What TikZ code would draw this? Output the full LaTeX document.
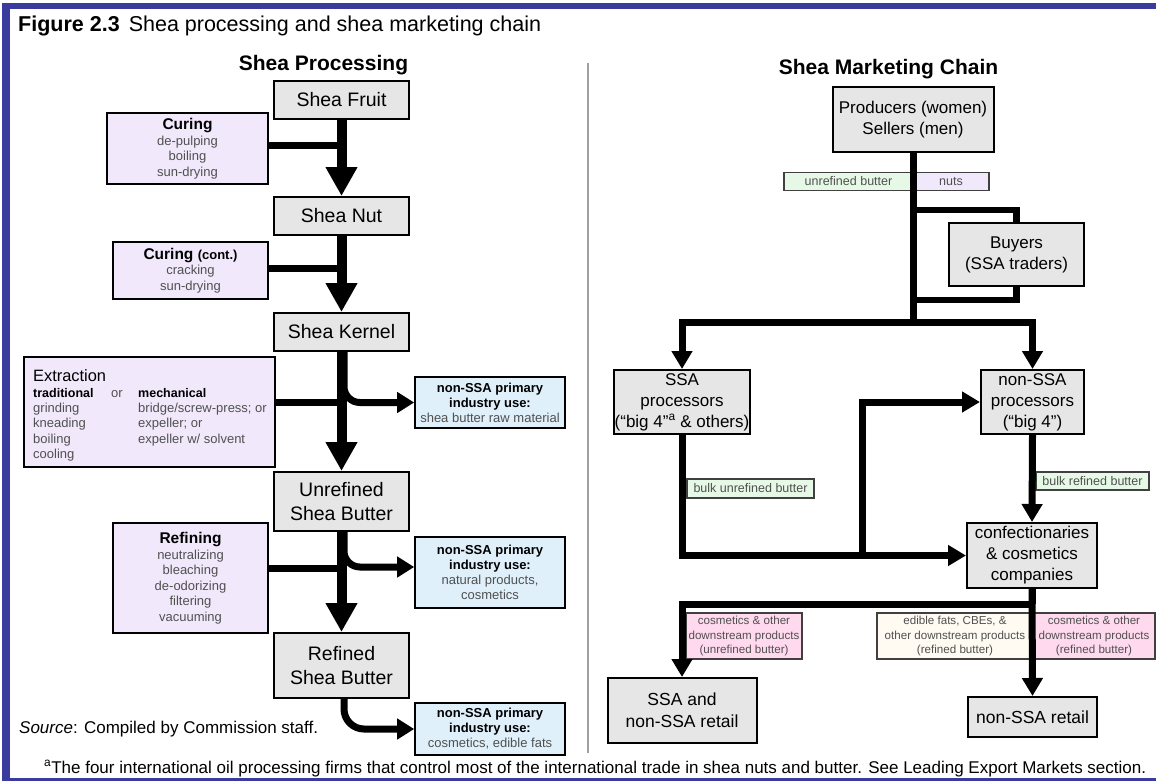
\documentclass[tikz,border=0pt]{standalone}
\usepackage{fontspec}
\setmainfont{Liberation Sans}
\usetikzlibrary{arrows.meta}
\definecolor{frameblue}{HTML}{3B3B9E}
\definecolor{boxgray}{HTML}{E6E6E6}
\definecolor{lav}{HTML}{F1E8FB}
\definecolor{lblue}{HTML}{DFF0FB}
\definecolor{lgreen}{HTML}{E6F9E6}
\definecolor{lpink}{HTML}{FFD9EE}
\definecolor{cream}{HTML}{FFFBF2}
\definecolor{subgray}{HTML}{505050}
\definecolor{divgray}{HTML}{A0A0A0}
\newcommand\fs[2]{\fontsize{#1}{#2}\selectfont}
\newcommand\hd[1]{{\color{black}\fs{15.5}{15.5}\bfseries #1}}
\newcommand\bk[1]{{\color{black}\bfseries #1}}
\begin{document}
\begin{tikzpicture}[x=1pt,y=-1pt,
  gbox/.style={draw=black, line width=2pt, fill=boxgray, align=center, inner sep=0pt},
  pbox/.style={draw=black, line width=1.6pt, fill=lav, align=center, inner sep=0pt, text=subgray, font=\fs{13}{15.5}},
  bbox/.style={draw=black, line width=1.6pt, fill=lblue, align=center, inner sep=0pt, text=subgray, font=\fs{13}{15}},
  lab/.style={draw=black!75, line width=1.2pt, inner sep=0pt, align=center, text=subgray, font=\fs{12.5}{14}},
  plab/.style={draw=black!75, line width=1.2pt, inner sep=0pt, align=center, text=subgray, font=\fs{11.6}{14.2}},
  lftxt/.style={font=\fs{19.5}{24}},
  rttxt/.style={font=\fs{17}{21}},
  lstem/.style={line width=10pt, -{Triangle[width=30pt,length=29pt]}},
  lbar/.style={line width=7pt},
  lbranch/.style={line width=7pt, rounded corners=16pt, -{Triangle[width=20pt,length=17pt]}},
  rline/.style={line width=7pt},
  rarr/.style={line width=7pt, -{Triangle[width=20pt,length=18pt]}},
  ext/.style={anchor=base west, inner sep=0pt, font=\fs{13}{15}, text=subgray}
]
\useasboundingbox (0,0) rectangle (1156,782);
\fill[white] (0,0) rectangle (1156,782);
% frame
\fill[frameblue] (2,3) rectangle (1156,9);
\fill[frameblue] (2,3) rectangle (10,781);
\fill[frameblue] (2,777.5) rectangle (1156,780.5);

% titles
\node[anchor=base west, inner sep=0pt, font=\fs{21.5}{24}] (title) at (18,31)
  {\textbf{Figure 2.3}\hspace{9pt}Shea processing and shea marketing chain};
\node[anchor=base, inner sep=0pt, font=\fs{21}{24}\bfseries] (lhead) at (323.5,70) {Shea Processing};
\node[anchor=base, inner sep=0pt, font=\fs{21}{24}\bfseries] (rhead) at (888.5,74) {Shea Marketing Chain};

% divider
\coordinate (dtop) at (588,63);
\coordinate (dbot) at (588,753);
\draw[divgray, line width=1.5pt] (dtop) -- (dbot);

% ---------------- left: processing ----------------
\node[gbox, lftxt, minimum width=135, minimum height=38] (fruit) at (341.5,100) {Shea Fruit};
\node[gbox, lftxt, minimum width=135, minimum height=38] (nut) at (341.5,216) {Shea Nut};
\node[gbox, lftxt, minimum width=135, minimum height=38] (kernel) at (341.5,332) {Shea Kernel};
\node[gbox, lftxt, minimum width=135, minimum height=59] (unref) at (341.5,501.5) {Unrefined\\Shea Butter};
\node[gbox, lftxt, minimum width=135, minimum height=65] (refd) at (341.5,665.5) {Refined\\Shea Butter};

\node[pbox, minimum width=161, minimum height=71] (curing) at (187.5,148.5)
  {\hd{Curing}\\de-pulping\\boiling\\sun-drying};
\node[pbox, minimum width=155, minimum height=57] (cont) at (190.5,270.5)
  {\hd{Curing {\fs{13}{15.5}(cont.)}}\\cracking\\sun-drying};
\node[pbox, minimum width=251, minimum height=110] (extr) at (149.5,412) {};
\node[pbox, minimum width=155, minimum height=110] (refin) at (190.5,578)
  {\hd{Refining}\\neutralizing\\bleaching\\de-odorizing\\filtering\\vacuuming};

% extraction text
\node[anchor=base west, inner sep=0pt, font=\fs{16.4}{18}] (extitle) at (33,381) {Extraction};
\node[ext, text=black, font=\fs{12.5}{15}\bfseries] (trad) at (33,397) {traditional};
\node[ext] (orw) at (111,397) {or};
\node[ext, text=black, font=\fs{12.5}{15}\bfseries] (mech) at (138,397) {mechanical};
\node[ext] (e1) at (33,412) {grinding};
\node[ext] (e2) at (33,427.5) {kneading};
\node[ext] (e3) at (33,443) {boiling};
\node[ext] (e4) at (33,458) {cooling};
\node[ext] (m1) at (138,412) {bridge/screw-press; or};
\node[ext] (m2) at (138,427.5) {expeller; or};
\node[ext] (m3) at (138,443) {expeller w/ solvent};

\node[bbox, minimum width=150, minimum height=51] (ns1) at (490,402.5)
  {\bk{non-SSA primary}\\\bk{industry use:}\\shea butter raw material};
\node[bbox, minimum width=150, minimum height=71] (ns2) at (490,572.5)
  {\bk{non-SSA primary}\\\bk{industry use:}\\natural products,\\cosmetics};
\node[bbox, minimum width=150, minimum height=52] (ns3) at (490,729)
  {\bk{non-SSA primary}\\\bk{industry use:}\\cosmetics, edible fats};

% left connectors
\draw[lstem] (fruit.south) -- (nut.north);
\draw[lbar] ([yshift=3pt]curing.east) -- ([yshift=3pt]curing.east -| fruit.south);
\draw[lstem] (nut.south) -- (kernel.north);
\draw[lbar] ([yshift=2.5pt]cont.east) -- ([yshift=2.5pt]cont.east -| nut.south);
\draw[lstem] (kernel.south) -- (unref.north);
\draw[lbar] ([yshift=10pt]extr.east) -- ([yshift=10pt]extr.east -| kernel.south);
\draw[lbranch] ([xshift=2.5pt]kernel.south) |- (ns1.west);
\draw[lstem] (unref.south) -- (refd.north);
\draw[lbar] ([yshift=10pt]refin.east) -- ([yshift=10pt]refin.east -| unref.south);
\draw[lbranch] ([xshift=2.5pt]unref.south) |- ([yshift=5.5pt]ns2.west);
\draw[lbranch, rounded corners=20pt] ([xshift=2.5pt]refd.south) |- (ns3.west);

% source
\node[anchor=base west, inner sep=0pt, font=\fs{17}{20}] (src) at (19,733)
  {\textit{Source}: Compiled by Commission staff.};

% ---------------- right: marketing chain ----------------
\node[gbox, rttxt, minimum width=161, minimum height=65] (prod) at (913,119.5)
  {Producers (women)\\Sellers (men)};
\node[lab, fill=lgreen, minimum width=129, minimum height=18] (lubut) at (848.5,181.5) {unrefined butter};
\node[lab, fill=lav, minimum width=76, minimum height=18] (lnuts) at (951,181.5) {nuts};
\node[gbox, rttxt, minimum width=135, minimum height=63] (buyers) at (1016.5,254.5)
  {Buyers\\(SSA traders)};
\node[gbox, rttxt, minimum width=136, minimum height=64] (ssap) at (682,402)
  {SSA\\processors\\(“big 4”\textsuperscript{a} \& others)};
\node[gbox, rttxt, minimum width=103, minimum height=64] (nssap) at (1032.5,402)
  {non-SSA\\processors\\(“big 4”)};
\node[lab, fill=lgreen, minimum width=127, minimum height=19] (bulku) at (750.5,488.5) {bulk unrefined butter};
\node[lab, fill=lgreen, minimum width=113, minimum height=18] (bulkr) at (1092.5,481) {bulk refined butter};
\node[gbox, rttxt, minimum width=130, minimum height=65] (conf) at (1032,555.5)
  {confectionaries\\\& cosmetics\\companies};
\node[plab, fill=lpink, minimum width=116, minimum height=46] (pk1) at (744,636)
  {cosmetics \& other\\downstream products\\(unrefined butter)};
\node[plab, fill=cream, minimum width=156, minimum height=46] (crm) at (955,636)
  {edible fats, CBEs, \&\\other downstream products\\(refined butter)};
\node[plab, fill=lpink, minimum width=122, minimum height=46] (pk2) at (1094,636)
  {cosmetics \& other\\downstream products\\(refined butter)};
\node[gbox, rttxt, font=\fs{17.5}{22}, minimum width=149, minimum height=65] (ssar) at (682,710.5)
  {SSA and\\non-SSA retail};
\node[gbox, rttxt, font=\fs{17.5}{22}, minimum width=129, minimum height=40] (nssar) at (1032.5,717)
  {non-SSA retail};

% right connectors
\coordinate (split) at (913,322);
\coordinate (brtop) at (913,210);
\coordinate (brbot) at (913,300);
\coordinate (br) at (862,555.5);
\coordinate (split2) at (1032,604);
\draw[rline] (prod.south) -- (split);
\draw[line width=6.5pt] (brtop) -| (buyers.north);
\draw[line width=6.5pt] (buyers.south) |- (brbot);
\draw[rarr] (split) -| (ssap.north);
\draw[rarr] (split) -| (nssap.north);
\draw[rarr] (ssap.south) |- (conf.west);
\draw[rarr] (br) |- (nssap.west);
\draw[rarr] (nssap.south) -- (conf.north);
\draw[rline] (conf.south) -- (split2);
\draw[rarr] (split2) -| (ssar.north);
\draw[rarr] (conf.south) -- (nssar.north);

% footnote
\node[anchor=base west, inner sep=0pt, font=\fs{17}{20}] (fn) at (44,773)
  {\textsuperscript{a}The four international oil processing firms that control most of the international trade in shea nuts and butter. See Leading Export Markets section.};
\end{tikzpicture}
\end{document}
